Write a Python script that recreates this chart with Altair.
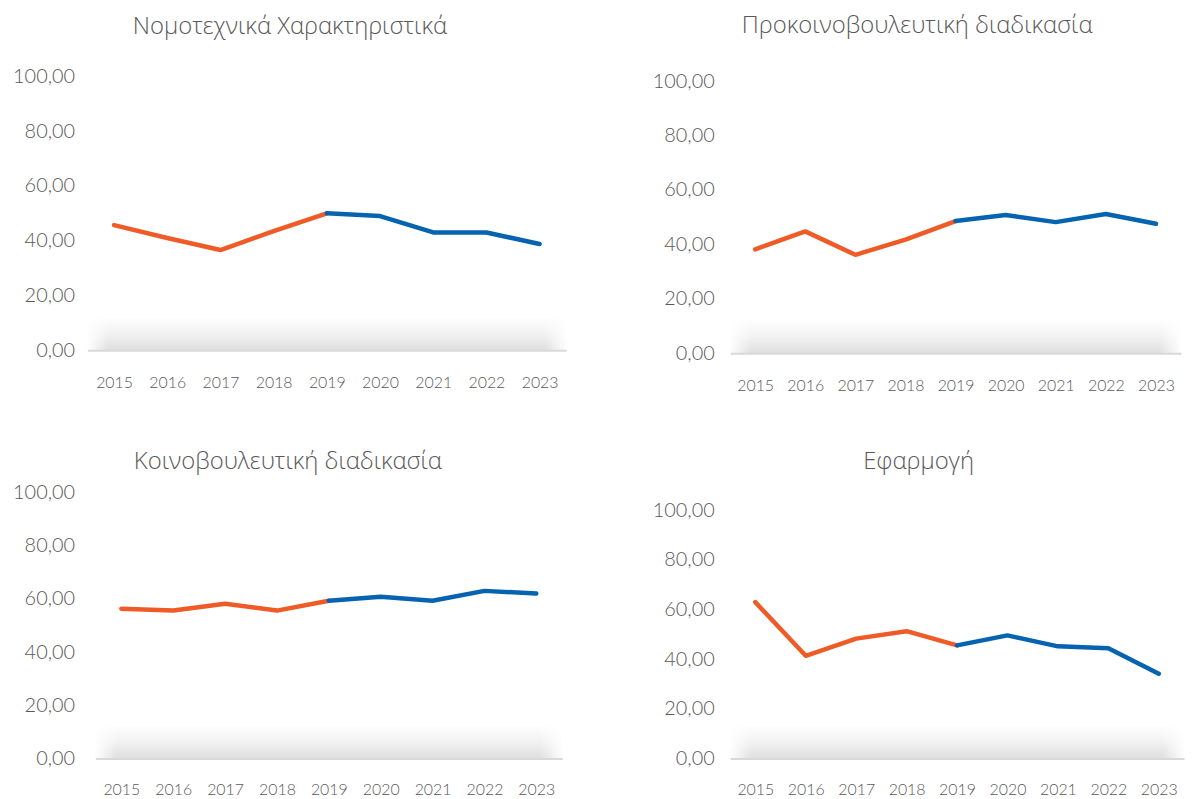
import altair as alt
import pandas as pd

years = ["2015", "2016", "2017", "2018", "2019", "2020", "2021", "2022", "2023"]

titles = [
    "Νομοτεχνικά Χαρακτηριστικά",
    "Προκοινοβουλευτική διαδικασία",
    "Κοινοβουλευτική διαδικασία",
    "Εφαρμογή",
]

vals_nomotexnika = [45.7, 41.0, 36.6, 43.5, 50.0, 49.0, 43.0, 43.0, 38.8]
vals_prokoinovouleftiki = [38.2, 44.8, 36.2, 41.8, 48.6, 50.8, 48.2, 51.2, 47.6]
vals_koinovouleftiki = [56.3, 55.6, 58.2, 55.6, 59.3, 60.8, 59.3, 63.0, 62.0]
vals_efarmogi = [63.0, 41.4, 48.3, 51.3, 45.6, 49.6, 45.2, 44.4, 34.2]

ORANGE = "#EF5B27"
BLUE = "#0563B0"
TEXT = "#595959"
FONT = "Lato"
TFONT = "Open Sans"


def build(vals):
    rows = []
    for yr, v in zip(years, vals):
        if int(yr) <= 2019:
            rows.append({"year": yr, "value": v, "seg": "a"})
        if int(yr) >= 2019:
            rows.append({"year": yr, "value": v, "seg": "b"})
    return pd.DataFrame(rows)


def panel(title, vals, W, H, ytop, x0, toff, ypad, xpad):
    df = build(vals)
    base_df = pd.DataFrame({"k": [0]})
    shadow = alt.Chart(base_df).mark_rect(
        fill=alt.Gradient(
            gradient="linear",
            stops=[alt.GradientStop(color="#ffffff", offset=0),
                   alt.GradientStop(color="#f2f2f2", offset=0.5),
                   alt.GradientStop(color="#dedede", offset=1)],
            x1=0, x2=0, y1=0, y2=1,
        )
    ).encode(x=alt.value(x0), x2=alt.value(W), y=alt.value(H - 34), y2=alt.value(H))
    fade_l = alt.Chart(base_df).mark_rect(
        fill=alt.Gradient(
            gradient="linear",
            stops=[alt.GradientStop(color="rgba(255,255,255,1)", offset=0),
                   alt.GradientStop(color="rgba(255,255,255,0)", offset=1)],
            x1=0, x2=1, y1=0, y2=0,
        )
    ).encode(x=alt.value(x0 - 1), x2=alt.value(x0 + 22), y=alt.value(H - 36), y2=alt.value(H))
    fade_r = alt.Chart(base_df).mark_rect(
        fill=alt.Gradient(
            gradient="linear",
            stops=[alt.GradientStop(color="rgba(255,255,255,0)", offset=0),
                   alt.GradientStop(color="rgba(255,255,255,1)", offset=1)],
            x1=0, x2=1, y1=0, y2=0,
        )
    ).encode(x=alt.value(W - 22), x2=alt.value(W + 1), y=alt.value(H - 36), y2=alt.value(H))

    lines = alt.Chart(df).mark_line(strokeWidth=4.5, strokeCap="round", strokeJoin="round").encode(
        x=alt.X("year:O", sort=years,
                scale=alt.Scale(type="point", padding=0.5, range=[x0, W]),
                axis=alt.Axis(title=None, labelAngle=0, ticks=False, domainColor="#d9d9d9",
                              domainWidth=2, labelPadding=xpad, labelFontSize=16,
                              labelColor=TEXT, labelFont=FONT, labelFontWeight=300, zindex=1)),
        y=alt.Y("value:Q", scale=alt.Scale(domain=[0, ytop], nice=False),
                axis=alt.Axis(title=None, values=[0, 20, 40, 60, 80, 100], grid=False,
                              domain=False, ticks=False, labelPadding=ypad,
                              labelExpr="replace(format(datum.value, '.2f'), '.', ',')",
                              labelFontSize=20, labelColor=TEXT, labelFont=FONT,
                              labelFontWeight=300)),
        color=alt.Color("seg:N", scale=alt.Scale(domain=["a", "b"], range=[ORANGE, BLUE]), legend=None),
        order=alt.Order("seg:N", sort="descending"),
    )
    return alt.layer(shadow, fade_l, fade_r, lines).properties(
        width=W, height=H,
        title=alt.TitleParams(title, frame="bounds", anchor="middle", offset=toff,
                              fontSize=24, fontWeight=300, color=TEXT, font=TFONT),
    )


p1 = panel(titles[0], vals_nomotexnika, 482, 276, 100, 0, 28, 13, 24)
p2 = panel(titles[1], vals_prokoinovouleftiki, 454, 279, 101.8, 0, 33, 16, 24)
p3 = panel(titles[2], vals_koinovouleftiki, 478, 268, 100, 8, 9, 13, 23)
p4 = panel(titles[3], vals_efarmogi, 457, 268, 107.2, 0, 19, 16, 23)

chart = alt.vconcat(
    alt.hconcat(p1, p2, spacing=85),
    alt.hconcat(p3, p4, spacing=89),
    spacing=57,
).properties(padding={"top": 3, "left": 4, "right": 0, "bottom": 0}).configure_view(stroke=None)

chart.save("out.html", embed_options={"renderer": "svg", "actions": False})
